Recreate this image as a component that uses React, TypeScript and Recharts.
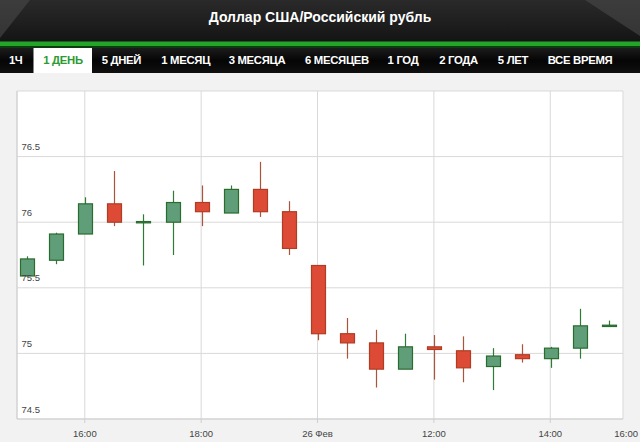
import { Bar, CartesianGrid, ComposedChart, XAxis, YAxis } from "recharts";

const slots = [0, 1, 2, 3, 4, 5, 6, 7, 8, 9, 10, 11, 12, 13, 14, 15, 16, 17, 18, 19, 20];
const opens = [75.59, 75.71, 75.91, 76.14, 75.995, 76.0, 76.15, 76.07, 76.25, 76.08, 75.67, 75.15, 75.08, 74.88, 75.05, 75.02, 74.9, 74.99, 74.96, 75.04, 75.205];
const highs = [75.74, 75.92, 76.19, 76.39, 76.06, 76.24, 76.28, 76.28, 76.46, 76.16, 75.67, 75.27, 75.18, 75.15, 75.14, 75.13, 75.04, 75.07, 75.05, 75.34, 75.25];
const lows = [75.59, 75.68, 75.91, 75.97, 75.67, 75.75, 75.97, 76.07, 76.04, 75.75, 75.1, 74.96, 74.74, 74.88, 74.8, 74.78, 74.72, 74.93, 74.89, 74.96, 75.205];
const closes = [75.72, 75.91, 76.14, 76.0, 76.005, 76.15, 76.08, 76.25, 76.08, 75.8, 75.15, 75.08, 74.88, 75.05, 75.03, 74.89, 74.98, 74.96, 75.04, 75.21, 75.215];

const xTicks = [2, 6, 10, 14, 18, 20.5];
const xTickLabels = ["16:00", "18:00", "26 Фев", "12:00", "14:00", "16:00"];
const yTicks = [74.5, 75, 75.5, 76, 76.5, 77];

const tabs = ["1Ч", "1 ДЕНЬ", "5 ДНЕЙ", "1 МЕСЯЦ", "3 МЕСЯЦА", "6 МЕСЯЦЕВ", "1 ГОД", "2 ГОДА", "5 ЛЕТ", "ВСЕ ВРЕМЯ"];
const tabCenters = [15.7, 63, 121.4, 185.7, 257, 337, 403, 458.6, 513, 580];
const activeTab = 1;

const data = slots.map((i) => ({
  i,
  open: opens[i],
  high: highs[i],
  low: lows[i],
  close: closes[i],
}));

const FONT = "'Liberation Sans', Arial, sans-serif";
// plot bottom inside the chart svg (chart is placed at top 73)
const PLOT_BOTTOM = 346;

function Candle(props: any) {
  const { x, y, width, height, payload } = props;
  if (!payload) return null;
  const top = Math.min(y, y + height);
  const h = Math.abs(height);
  const { open, high, low, close } = payload;
  const perUnit = high - low > 0 ? h / (high - low) : 0;
  const cx = Math.round(x + width / 2) + 0.5;
  const up = close >= open;
  const bodyTop = top + (high - Math.max(open, close)) * perUnit;
  const bodyBottom = top + (high - Math.min(open, close)) * perUnit;
  const bw = 14;
  return (
    <g>
      <line x1={cx} x2={cx} y1={top} y2={top + h} stroke={up ? "#2f7a34" : "#a8553a"} strokeWidth={1.2} />
      <rect
        x={cx - bw / 2}
        y={bodyTop}
        width={bw}
        height={Math.max(bodyBottom - bodyTop, 1)}
        fill={up ? "#5f9e79" : "#dd4b36"}
        stroke={up ? "#2a6b2e" : "#b03c24"}
        strokeWidth={1.2}
      />
    </g>
  );
}

function XTick(props: any) {
  const { x, index } = props;
  const last = index === xTicks.length - 1;
  return (
    <g>
      {!last && <line x1={x} x2={x} y1={PLOT_BOTTOM} y2={PLOT_BOTTOM + 4} stroke="#cfcfcf" />}
      <text
        x={last ? 638 : x}
        y={PLOT_BOTTOM + 17.5}
        textAnchor={last ? "end" : "middle"}
        fill="#444"
        fontSize={9.5}
        fontFamily={FONT}
      >
        {xTickLabels[index]}
      </text>
    </g>
  );
}

function YTick(props: any) {
  const { y, payload } = props;
  if (payload.value === 77) return null;
  return (
    <text x={21.5} y={y - 6.5} fill="#444" fontSize={9.5} fontFamily={FONT}>
      {String(payload.value)}
    </text>
  );
}

export default function App() {
  return (
    <div
      style={{
        position: "absolute",
        left: 0,
        top: 0,
        width: 640,
        height: 442,
        background: "#f2f2f2",
        overflow: "hidden",
        fontFamily: FONT,
      }}
    >
      <svg width={640} height={73} style={{ position: "absolute", left: 0, top: 0 }}>
        <defs>
          <linearGradient id="hdr" x1="0" y1="0" x2="0" y2="1">
            <stop offset="0" stopColor="#2a2a2a" />
            <stop offset="1" stopColor="#141414" />
          </linearGradient>
          <linearGradient id="tabs" x1="0" y1="0" x2="0" y2="1">
            <stop offset="0" stopColor="#1c1c1c" />
            <stop offset="0.5" stopColor="#050505" />
            <stop offset="1" stopColor="#101010" />
          </linearGradient>
        </defs>
        <rect x={0} y={0} width={640} height={42} fill="url(#hdr)" />
        <polygon points="0,0 30,0 0,38" fill="#4a4a4a" opacity={0.6} />
        <polygon points="585,0 640,0 640,36" fill="#4a4a4a" opacity={0.6} />
        <text x={320} y={22} textAnchor="middle" fill="#fff" fontSize={14} fontWeight="bold" fontFamily={FONT}>
          Доллар США/Российский рубль
        </text>
        <rect x={0} y={41.5} width={640} height={4.5} fill="#25a42a" />
        <rect x={0} y={46} width={640} height={2} fill="#0b3d10" />
        <rect x={0} y={48} width={640} height={25} fill="url(#tabs)" />
        <rect x={33.5} y={48} width={58.5} height={25} fill="#fff" />
        {tabs.map((t, k) => (
          <text
            key={t}
            x={tabCenters[k]}
            y={63.5}
            textAnchor="middle"
            fill={k === activeTab ? "#2c9a33" : "#fff"}
            fontSize={11.3}
            fontWeight="bold"
            fontFamily={FONT}
            letterSpacing={-0.3}
          >
            {t}
          </text>
        ))}
      </svg>
      <div style={{ position: "absolute", left: 0, top: 73 }}>
        <ComposedChart width={640} height={369} data={data} margin={{ top: 18, right: 17, left: 16, bottom: 0 }}>
          <CartesianGrid stroke="#d9d9d9" fill="#fff" />
          <XAxis
            dataKey="i"
            type="number"
            domain={[-0.33, 20.5]}
            ticks={xTicks}
            interval={0}
            height={23}
            stroke="#cfcfcf"
            tickLine={false}
            tick={<XTick />}
            allowDataOverflow
          />
          <YAxis
            type="number"
            domain={[74.5, 77]}
            ticks={yTicks}
            interval={0}
            width={1}
            stroke="#cfcfcf"
            tickLine={false}
            tick={<YTick />}
            allowDataOverflow
          />
          <Bar
            dataKey={(d: any) => [d.low, d.high]}
            barSize={14}
            shape={<Candle />}
            isAnimationActive={false}
          />
        </ComposedChart>
      </div>
    </div>
  );
}
